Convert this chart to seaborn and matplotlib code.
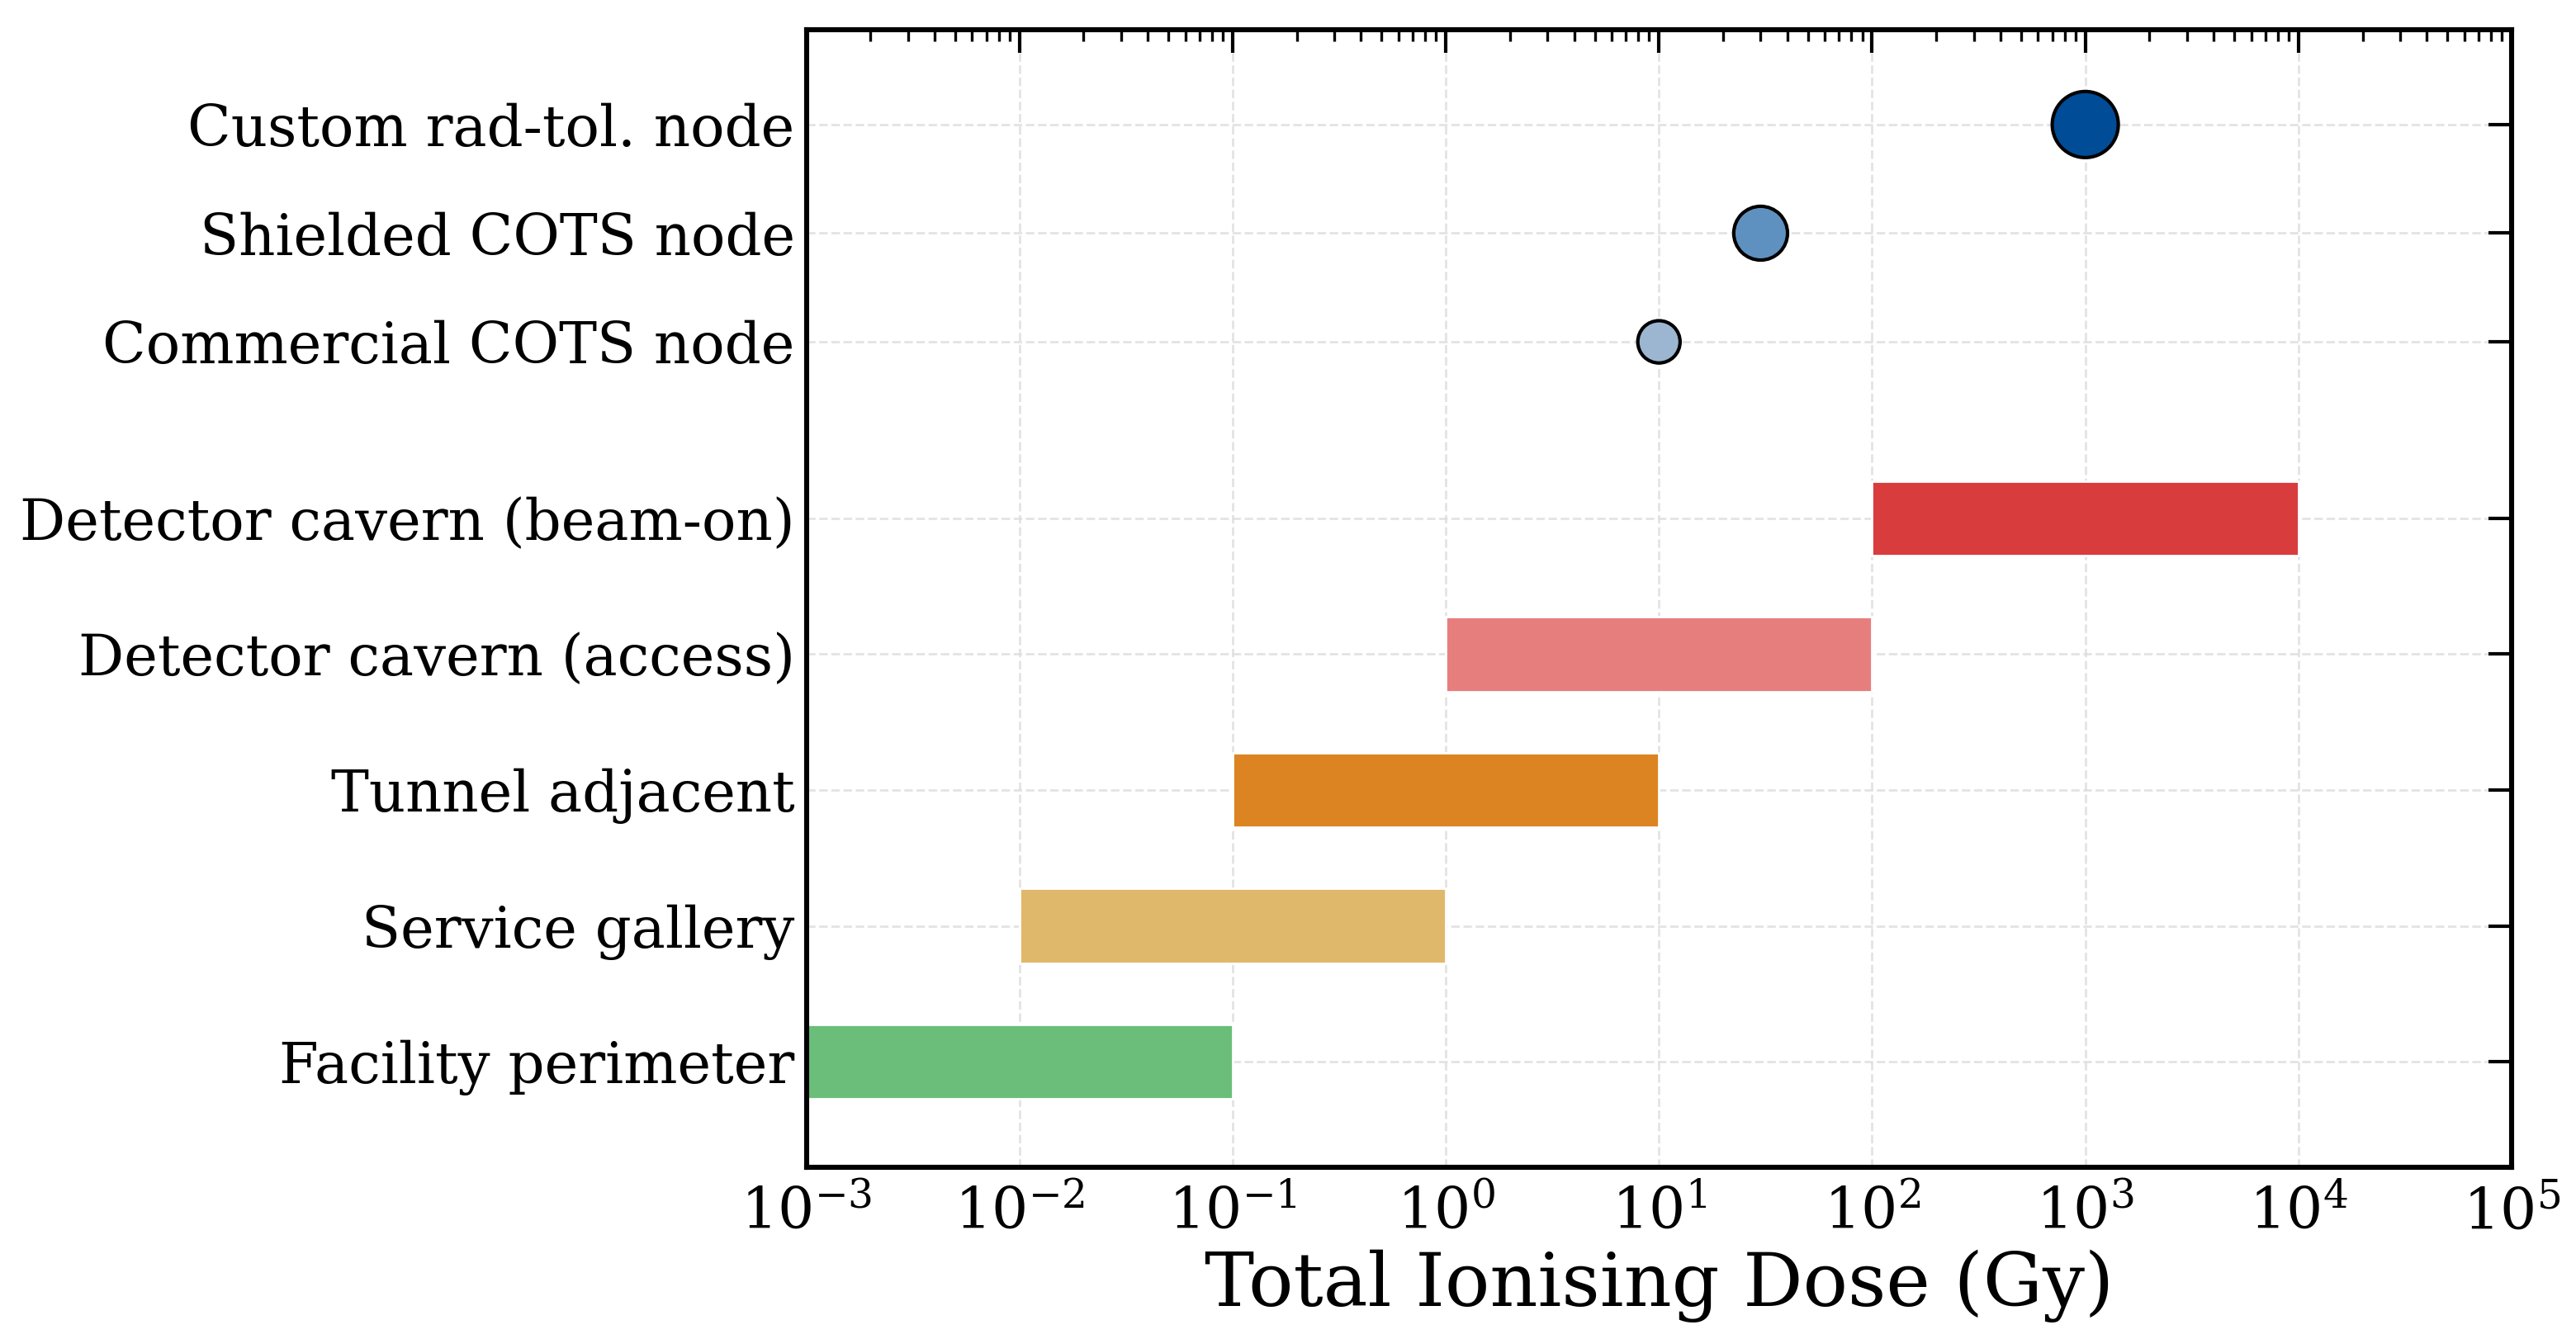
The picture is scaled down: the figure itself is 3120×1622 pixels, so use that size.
import matplotlib
matplotlib.use("Agg")
import matplotlib.pyplot as plt
import matplotlib.ticker as mticker
import pandas as pd
import seaborn as sns

# radiation environments (dose ranges, Gy)
zones = ["Facility perimeter", "Service gallery", "Tunnel adjacent",
         "Detector cavern (access)", "Detector cavern (beam-on)"]
zone_low = [1e-3, 1e-2, 1e-1, 1e0, 1e2]
zone_high = [1e-1, 1e0, 1e1, 1e2, 1e4]
zone_colors = ["#6bbe79", "#e0b86b", "#dc8421", "#e77e7e", "#d93c3c"]

# node tolerances (Gy)
nodes = ["Commercial COTS node", "Shielded COTS node", "Custom rad-tol. node"]
node_tid = [10, 30, 1000]
node_sizes = [340, 550, 830]
node_colors = ["#9cb6d2", "#5f91c0", "#004c97"]

zone_y = [0, 1, 2, 3, 4]
node_y = [5.3, 6.1, 6.9]


def main():
    sns.set_style("white")
    plt.rcParams["font.family"] = ["DejaVu Serif"]
    plt.rcParams["mathtext.fontset"] = "dejavuserif"
    plt.rcParams["text.color"] = "black"
    plt.rcParams["axes.labelcolor"] = "black"
    plt.rcParams["xtick.color"] = "black"
    plt.rcParams["ytick.color"] = "black"

    fig, ax = plt.subplots(figsize=(15.6, 8.11), dpi=200)
    fig.subplots_adjust(left=0.313, right=0.975, top=0.978, bottom=0.128)

    widths = [h - l for l, h in zip(zone_low, zone_high)]
    ax.barh(zone_y, widths, left=zone_low, height=0.55,
            color=zone_colors, zorder=2)

    df = pd.DataFrame({"tid": node_tid, "y": node_y, "node": nodes})
    sns.scatterplot(data=df, x="tid", y="y", hue="node", size="node",
                    palette=dict(zip(nodes, node_colors)),
                    sizes=dict(zip(nodes, node_sizes)),
                    edgecolor="black", linewidth=1.5, legend=False,
                    zorder=3, ax=ax)

    ax.set_xscale("log")
    ax.set_xlim(1e-3, 1e5)
    ax.set_ylim(-0.78, 7.6)
    ax.set_yticks(zone_y + node_y)
    ax.set_yticklabels(zones + nodes)
    ax.xaxis.set_major_locator(mticker.LogLocator(base=10, numticks=20))
    ax.xaxis.set_minor_locator(mticker.LogLocator(base=10, subs=range(2, 10), numticks=20))
    ax.xaxis.set_minor_formatter(mticker.NullFormatter())

    ax.set_xlabel("Total Ionising Dose (Gy)", fontsize=32.5)
    ax.set_ylabel("")
    ax.tick_params(axis="both", which="major", direction="in", top=True,
                   right=True, length=10, width=1.5)
    ax.tick_params(axis="x", which="minor", direction="in", top=True,
                   length=5, width=1.2)
    ax.tick_params(axis="x", labelsize=25, pad=8)
    ax.tick_params(axis="y", labelsize=24.8, pad=5)

    ax.grid(True, which="major", linestyle="--", color="#dddddd",
            linewidth=1.0, alpha=0.8, zorder=0)
    ax.set_axisbelow(True)
    for s in ax.spines.values():
        s.set_linewidth(2.2)
        s.set_color("black")

    fig.savefig("out.png", dpi=200)
    plt.close(fig)


if __name__ == "__main__":
    main()
